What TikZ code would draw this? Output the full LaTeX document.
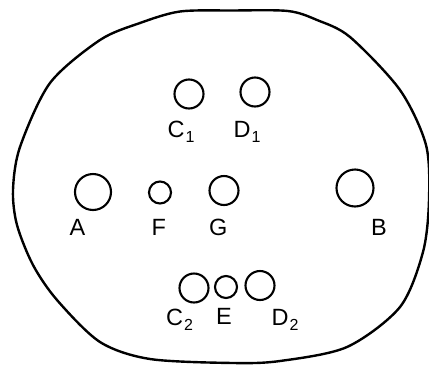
\documentclass[tikz,border=0pt]{standalone}
\usepackage{fontspec}
\setmainfont{Liberation Sans}
\newcommand{\sbs}[1]{\kern1pt\raisebox{-5pt}{\fontsize{16}{16}\selectfont #1}}
\begin{document}
\begin{tikzpicture}[x=1pt,y=-1pt,
  hole/.style={circle,draw,line width=2.1pt,inner sep=0pt,minimum size=#1},
  lab/.style={anchor=base west,inner sep=0pt,font=\fontsize{23.5}{23.5}\selectfont}]
\useasboundingbox (0,0) rectangle (429,365);
\draw[line width=2.4pt] plot[smooth cycle,tension=0.5] coordinates {
 (180,11.5) (232,10.5) (288,11) (317,20) (350,37) (400,90) (426,145) (429,200) (423,252)
 (400,307) (347,347) (280,361) (233,363) (150,359) (100,342) (57,300)
 (33,265) (17,225) (13,190) (20,147) (50,83) (100,40) (140,23)};
\node[hole=29pt] (c1) at (189,94) {};
\node[hole=29pt] (d1) at (255,92) {};
\node[hole=36pt] (a) at (93,192) {};
\node[hole=22pt] (f) at (160,192.5) {};
\node[hole=29pt] (g) at (224,190.5) {};
\node[hole=37pt] (b) at (355,188) {};
\node[hole=29pt] (c2) at (194,288) {};
\node[hole=22pt] (e) at (226,287) {};
\node[hole=29pt] (d2) at (260,285.5) {};
\node[lab] (lc1) at (167.5,137) {C\sbs{1}};
\node[lab] (ld1) at (233.5,137) {D\sbs{1}};
\node[lab] (la) at (69.5,235) {A};
\node[lab] (lf) at (151.5,235) {F};
\node[lab] (lg) at (209,235) {G};
\node[lab] (lb) at (371,235) {B};
\node[lab] (lc2) at (166,325) {C\sbs{2}};
\node[lab] (le) at (216,324.5) {E};
\node[lab] (ld2) at (271.5,325) {D\sbs{2}};
\end{tikzpicture}
\end{document}
